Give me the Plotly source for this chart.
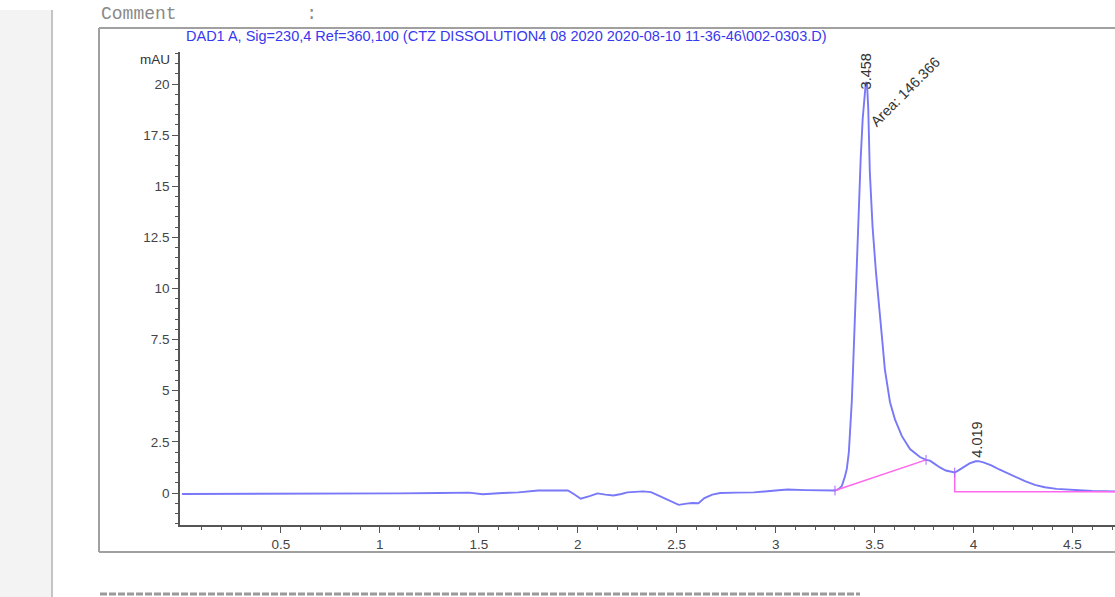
import plotly.graph_objects as go

W, H = 1115, 597

time_min = [0.0, 0.3, 0.6, 0.9, 1.1, 1.3, 1.45, 1.52, 1.56, 1.62, 1.7, 1.8, 1.9, 1.95,
            1.98, 2.015, 2.06, 2.10, 2.14, 2.18, 2.22, 2.25, 2.33, 2.37, 2.42, 2.47, 2.51,
            2.55, 2.58, 2.61, 2.64, 2.68, 2.72, 2.8, 2.89, 3.0, 3.06, 3.15, 3.25, 3.30,
            3.32, 3.335, 3.35, 3.36, 3.37, 3.376, 3.385, 3.391, 3.40, 3.408, 3.42, 3.43,
            3.44, 3.45, 3.456, 3.462, 3.468, 3.476, 3.49, 3.507, 3.52, 3.537, 3.552,
            3.578, 3.603, 3.638, 3.679, 3.729, 3.76, 3.78, 3.80, 3.83, 3.86, 3.89, 3.905,
            3.92, 3.95, 3.98, 4.01, 4.025, 4.05, 4.09, 4.13, 4.17, 4.21, 4.26, 4.31, 4.36,
            4.42, 4.5, 4.6, 4.72]
signal_mau = [-0.05, -0.05, -0.05, -0.04, -0.02, 0.0, 0.02, -0.06, -0.05, 0.0, 0.03, 0.12,
              0.13, 0.12, -0.05, -0.28, -0.15, -0.02, -0.08, -0.12, -0.05, 0.03, 0.08, 0.04,
              -0.18, -0.4, -0.58, -0.52, -0.49, -0.5, -0.25, -0.08, 0.0, 0.02, 0.03, 0.12,
              0.17, 0.14, 0.12, 0.12,
              0.2, 0.35, 0.8, 1.2, 2.0, 2.8, 4.5, 6.0, 8.5, 11.0, 14.2, 16.4,
              18.3, 19.7, 20.1, 20.0, 18.8, 15.7, 13.0, 10.8, 9.3, 7.66, 6.05,
              4.44, 3.6, 2.78, 2.15, 1.76, 1.62, 1.58, 1.45, 1.25, 1.1, 1.02, 1.0,
              1.08, 1.28, 1.45, 1.55, 1.56, 1.5, 1.35, 1.15, 0.97, 0.8, 0.58, 0.4, 0.28,
              0.2, 0.14, 0.1, 0.08]

# integration baselines
base1_t = [3.30, 3.76]
base1_y = [0.12, 1.62]
base2_t = [3.905, 3.905, 4.72]
base2_y = [1.0, 0.06, 0.06]
marks_t = [3.30, 3.76, 3.905]
marks_y = [0.12, 1.62, 1.0]

peak_rt = ["3.458", "4.019"]
peak_area = "Area: 146.366"

x_tick_vals = [0.5, 1, 1.5, 2, 2.5, 3, 3.5, 4, 4.5]
x_tick_text = ["0.5", "1", "1.5", "2", "2.5", "3", "3.5", "4", "4.5"]
y_tick_vals = [0, 2.5, 5, 7.5, 10, 12.5, 15, 17.5, 20]
y_tick_text = ["0", "2.5", "5", "7.5", "10", "12.5", "15", "17.5", "20"]

title_text = "DAD1 A, Sig=230,4 Ref=360,100 (CTZ DISSOLUTION4 08 2020 2020-08-10 11-36-46\\002-0303.D)"


def px(x):
    return x / W


def py(y):
    return 1 - y / H


fig = go.Figure()
fig.add_trace(go.Scatter(x=time_min, y=signal_mau, mode="lines",
                         line=dict(color="#7878f8", width=1.9), hoverinfo="skip"))
fig.add_trace(go.Scatter(x=base1_t, y=base1_y, mode="lines",
                         line=dict(color="#ff66ee", width=1.5), hoverinfo="skip"))
fig.add_trace(go.Scatter(x=base2_t, y=base2_y, mode="lines",
                         line=dict(color="#ff66ee", width=1.5), hoverinfo="skip"))
fig.add_trace(go.Scatter(x=marks_t, y=marks_y, mode="markers",
                         marker=dict(symbol="line-ns-open", size=7,
                                     line=dict(color="#555555", width=1)),
                         hoverinfo="skip"))

axis_color = "#555555"
tick_font = dict(family="Liberation Sans, Arial", size=13.5, color="#444444")

fig.update_layout(
    width=W, height=H,
    margin=dict(l=0, r=0, t=0, b=0),
    paper_bgcolor="white", plot_bgcolor="white",
    showlegend=False,
    xaxis=dict(domain=[180 / W, 1], range=[-0.01, 4.715],
               showline=True, linecolor=axis_color, linewidth=1.5,
               ticks="outside", ticklen=6, tickcolor=axis_color, tickwidth=1,
               tickmode="array", tickvals=x_tick_vals, ticktext=x_tick_text,
               tickfont=tick_font, showgrid=False, zeroline=False,
               minor=dict(ticks="outside", ticklen=3, tickcolor=axis_color,
                          tickmode="array",
                          tickvals=[i / 10 for i in range(1, 48)], showgrid=False)),
    yaxis=dict(domain=[py(525), py(52)], range=[-1.565, 21.565],
               showline=True, linecolor=axis_color, linewidth=1.5,
               ticks="outside", ticklen=6, tickcolor=axis_color, tickwidth=1,
               tickmode="array", tickvals=y_tick_vals, ticktext=y_tick_text,
               tickfont=tick_font, showgrid=False, zeroline=False,
               minor=dict(ticks="outside", ticklen=3, tickcolor=axis_color,
                          tickmode="array",
                          tickvals=[i / 2 - 1.5 for i in range(0, 47)], showgrid=False)),
)

shapes = [
    # left gray strip
    dict(type="rect", xref="paper", yref="paper", x0=0, x1=px(51), y0=0, y1=py(10),
         fillcolor="#f3f3f3", line=dict(width=0), layer="below"),
    dict(type="line", xref="paper", yref="paper", x0=px(52), x1=px(52), y0=0, y1=py(10),
         line=dict(color="#c4c4c4", width=2)),
    # outer box
    dict(type="line", xref="paper", yref="paper", x0=px(99), x1=1, y0=py(28), y1=py(28),
         line=dict(color="#a0a0a0", width=2)),
    dict(type="line", xref="paper", yref="paper", x0=px(99), x1=px(99), y0=py(28), y1=py(552),
         line=dict(color="#a0a0a0", width=2)),
    dict(type="line", xref="paper", yref="paper", x0=px(99), x1=1, y0=py(552), y1=py(552),
         line=dict(color="#a0a0a0", width=2)),
    # dashed separator
    dict(type="line", xref="paper", yref="paper", x0=px(100), x1=px(860), y0=py(594), y1=py(594),
         line=dict(color="#9a9a9a", width=3, dash="7px,2px")),
]
fig.update_layout(shapes=shapes)

ann_font = dict(family="Liberation Sans, Arial", size=14.5, color="#333333")
annotations = [
    dict(text="Comment            :", xref="paper", yref="paper", x=px(99), y=py(14),
         xanchor="left", yanchor="middle", showarrow=False,
         font=dict(family="Liberation Mono, Courier New", size=18, color="#8a8a8a")),
    dict(text=title_text, xref="paper", yref="paper", x=px(184), y=py(36),
         xanchor="left", yanchor="middle", showarrow=False,
         font=dict(family="Liberation Sans, Arial", size=14.5, color="#3838ee")),
    dict(text="mAU", xref="paper", yref="paper", x=px(172), y=py(60),
         xanchor="right", yanchor="middle", showarrow=False,
         font=dict(family="Liberation Sans, Arial", size=13.5, color="#333333")),
    dict(text=peak_rt[0], x=3.455, y=20.6, xanchor="center", yanchor="middle",
         textangle=-90, showarrow=False, font=ann_font),
    dict(text=peak_area, x=3.655, y=19.6, xanchor="center", yanchor="middle",
         textangle=-45, showarrow=False, font=ann_font),
    dict(text=peak_rt[1], x=4.017, y=2.6, xanchor="center", yanchor="middle",
         textangle=-90, showarrow=False, font=ann_font),
]
fig.update_layout(annotations=annotations)

fig.write_html("out.html", config={"displayModeBar": False},
               post_script="document.body.style.margin='0px';document.body.style.overflow='hidden';")
